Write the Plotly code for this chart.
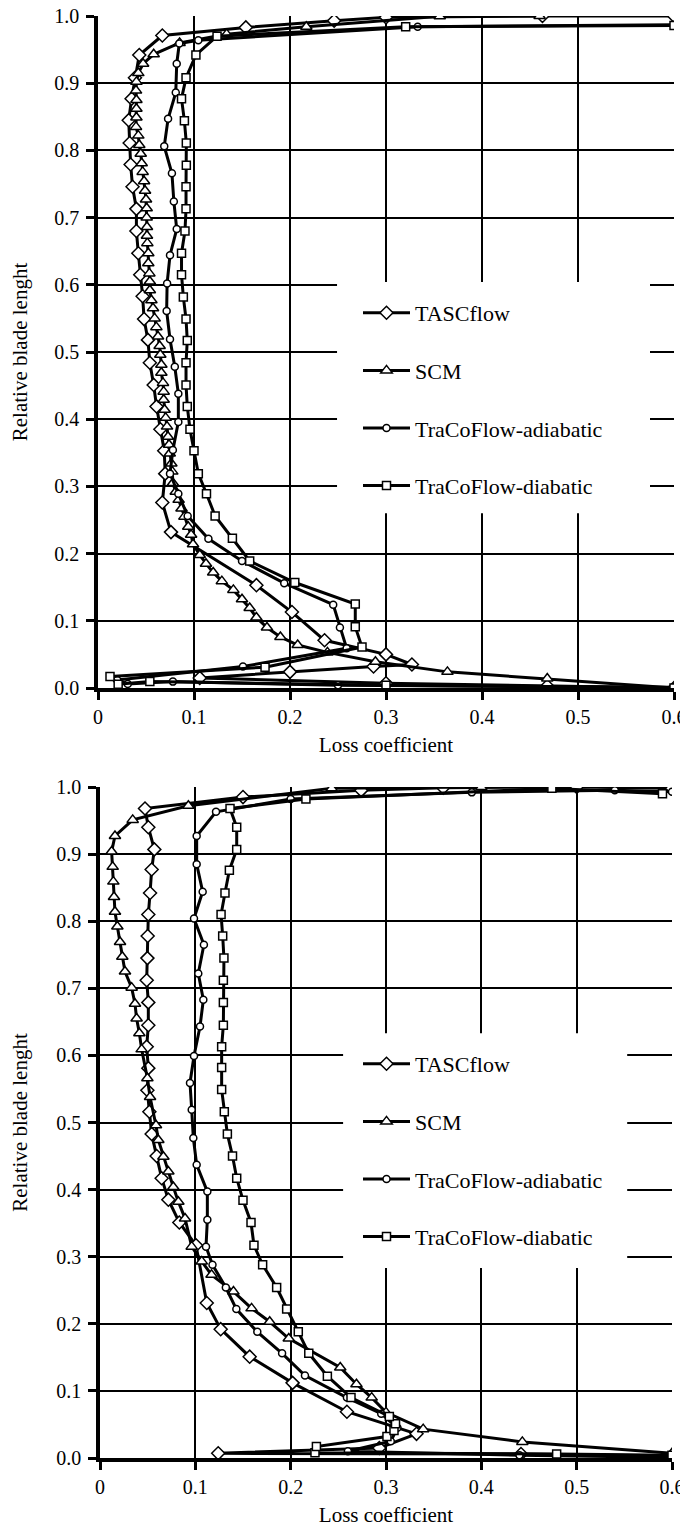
import plotly.graph_objects as go

# ---------------- data ----------------
series_names = ["TASCflow", "SCM", "TraCoFlow-adiabatic", "TraCoFlow-diabatic"]

x_tickvals = [0, 0.1, 0.2, 0.3, 0.4, 0.5, 0.6]
x_ticktext = ["0", "0.1", "0.2", "0.3", "0.4", "0.5", "0.6"]
y_tickvals = [0.0, 0.1, 0.2, 0.3, 0.4, 0.5, 0.6, 0.7, 0.8, 0.9, 1.0]

# upper chart: (loss coefficient, relative blade length)
top_tascflow = [(0.600, 0.000), (0.468, 0.003), (0.300, 0.007), (0.106, 0.015), (0.200, 0.024),
                (0.287, 0.032), (0.327, 0.035), (0.300, 0.050), (0.236, 0.071), (0.202, 0.113),
                (0.165, 0.153), (0.076, 0.232), (0.067, 0.276), (0.070, 0.319), (0.069, 0.353),
                (0.065, 0.385), (0.061, 0.419), (0.058, 0.451), (0.054, 0.484), (0.052, 0.518),
                (0.048, 0.549), (0.0465, 0.583), (0.044, 0.615), (0.042, 0.647), (0.040, 0.680),
                (0.040, 0.713), (0.036, 0.746), (0.034, 0.779), (0.033, 0.811), (0.032, 0.845),
                (0.035, 0.877), (0.0385, 0.908), (0.043, 0.942), (0.067, 0.971), (0.154, 0.983),
                (0.246, 0.993), (0.300, 0.998), (0.463, 1.000), (0.600, 1.000)]

top_scm = [(0.600, 0.000), (0.468, 0.014), (0.364, 0.024), (0.289, 0.039), (0.239, 0.053),
           (0.208, 0.064), (0.190, 0.076), (0.176, 0.090), (0.165, 0.105), (0.158, 0.119),
           (0.150, 0.132), (0.141, 0.146), (0.129, 0.159), (0.120, 0.172), (0.1125, 0.185),
           (0.106, 0.198), (0.099, 0.214), (0.097, 0.228), (0.094, 0.240), (0.090, 0.255),
           (0.087, 0.267), (0.084, 0.280), (0.081, 0.292), (0.078, 0.305), (0.0774, 0.322),
           (0.0764, 0.334), (0.0747, 0.349), (0.074, 0.362), (0.0729, 0.374), (0.0719, 0.389),
           (0.0705, 0.402), (0.0694, 0.414), (0.0684, 0.429), (0.0684, 0.441), (0.0677, 0.454),
           (0.066, 0.469), (0.066, 0.481), (0.0649, 0.496), (0.0642, 0.509), (0.0625, 0.523),
           (0.0608, 0.537), (0.059, 0.550), (0.0573, 0.565), (0.0556, 0.577), (0.054, 0.592),
           (0.054, 0.605), (0.0535, 0.617), (0.0524, 0.632), (0.0524, 0.647), (0.0514, 0.662),
           (0.051, 0.673), (0.051, 0.686), (0.0507, 0.700), (0.0507, 0.714), (0.050, 0.727),
           (0.049, 0.740), (0.048, 0.754), (0.0465, 0.768), (0.0455, 0.781), (0.0445, 0.795),
           (0.043, 0.808), (0.042, 0.822), (0.0396, 0.835), (0.040, 0.849), (0.040, 0.862),
           (0.040, 0.875), (0.0396, 0.889), (0.040, 0.902), (0.042, 0.915), (0.047, 0.929),
           (0.058, 0.943), (0.085, 0.960), (0.134, 0.973), (0.217, 0.984), (0.356, 0.9995),
           (0.460, 1.000)]

top_adiabatic = [(0.600, 0.001), (0.250, 0.004), (0.078, 0.0095), (0.031, 0.006), (0.020, 0.012),
                 (0.151, 0.032), (0.259, 0.059), (0.252, 0.090), (0.245, 0.124), (0.194, 0.156),
                 (0.150, 0.189), (0.115, 0.222), (0.0934, 0.256), (0.0837, 0.289), (0.075, 0.319),
                 (0.078, 0.354), (0.0837, 0.396), (0.0837, 0.438), (0.080, 0.478), (0.075, 0.519),
                 (0.0715, 0.561), (0.072, 0.602), (0.075, 0.644), (0.082, 0.683), (0.079, 0.724),
                 (0.077, 0.766), (0.069, 0.806), (0.073, 0.847), (0.081, 0.886), (0.082, 0.929),
                 (0.0847, 0.959), (0.1045, 0.964), (0.333, 0.984), (0.600, 0.987)]

top_diabatic = [(0.600, 0.000), (0.300, 0.004), (0.054, 0.0095), (0.021, 0.0055), (0.0125, 0.017),
                (0.174, 0.031), (0.275, 0.061), (0.268, 0.091), (0.268, 0.125), (0.205, 0.157),
                (0.158, 0.189), (0.140, 0.223), (0.122, 0.256), (0.113, 0.289), (0.1045, 0.319),
                (0.100, 0.353), (0.0958, 0.385), (0.093, 0.419), (0.0917, 0.451), (0.0917, 0.484),
                (0.093, 0.517), (0.0917, 0.549), (0.0889, 0.582), (0.087, 0.615), (0.087, 0.647),
                (0.0906, 0.680), (0.0917, 0.713), (0.0917, 0.746), (0.092, 0.778), (0.092, 0.811),
                (0.090, 0.844), (0.087, 0.877), (0.0917, 0.908), (0.102, 0.942), (0.124, 0.970),
                (0.3205, 0.984), (0.600, 0.986)]

# lower chart
bot_tascflow = [(0.600, 0.003), (0.4416, 0.006), (0.124, 0.007), (0.293, 0.015), (0.332, 0.036),
                (0.259, 0.069), (0.202, 0.112), (0.157, 0.151), (0.1266, 0.192), (0.112, 0.231),
                (0.1007, 0.317), (0.0832, 0.351), (0.0717, 0.385), (0.0647, 0.417), (0.0594, 0.450),
                (0.0542, 0.483), (0.0518, 0.516), (0.0497, 0.548), (0.0507, 0.581), (0.049, 0.613),
                (0.0507, 0.645), (0.0507, 0.679), (0.049, 0.712), (0.0497, 0.745), (0.050, 0.778),
                (0.0507, 0.810), (0.0525, 0.842), (0.0542, 0.877), (0.057, 0.907), (0.0507, 0.940),
                (0.0472, 0.968), (0.150, 0.985), (0.274, 0.995), (0.360, 0.999), (0.500, 1.000),
                (0.600, 0.998)]

bot_scm = [(0.600, 0.007), (0.443, 0.024), (0.339, 0.043), (0.300, 0.068), (0.285, 0.090),
           (0.269, 0.110), (0.252, 0.135), (0.198, 0.178), (0.178, 0.203), (0.159, 0.223),
           (0.140, 0.248), (0.117, 0.273), (0.1067, 0.293), (0.0962, 0.315), (0.0892, 0.357),
           (0.0822, 0.382), (0.0769, 0.404), (0.0717, 0.427), (0.0665, 0.449), (0.0612, 0.474),
           (0.0587, 0.496), (0.0525, 0.538), (0.0497, 0.566), (0.0437, 0.609), (0.0413, 0.633),
           (0.0384, 0.655), (0.0367, 0.677), (0.0332, 0.701), (0.0262, 0.725), (0.0234, 0.747),
           (0.021, 0.769), (0.0182, 0.792), (0.0157, 0.814), (0.0147, 0.836), (0.014, 0.859),
           (0.0133, 0.881), (0.0122, 0.904), (0.0157, 0.927), (0.0343, 0.951), (0.0927, 0.972),
           (0.243, 0.998), (0.400, 1.000)]

bot_adiabatic = [(0.600, 0.001), (0.440, 0.004), (0.260, 0.010), (0.305, 0.025), (0.312, 0.045),
                 (0.295, 0.066), (0.259, 0.090), (0.215, 0.123), (0.191, 0.156), (0.165, 0.188),
                 (0.143, 0.222), (0.132, 0.254), (0.118, 0.288), (0.1112, 0.315), (0.1126, 0.355),
                 (0.1126, 0.397), (0.1014, 0.437), (0.0979, 0.477), (0.0962, 0.519), (0.0944, 0.559),
                 (0.0986, 0.599), (0.1049, 0.643), (0.1084, 0.683), (0.1031, 0.722), (0.109, 0.765),
                 (0.0986, 0.804), (0.1077, 0.844), (0.1014, 0.885), (0.1014, 0.927), (0.1217, 0.963),
                 (0.200, 0.982), (0.390, 0.992), (0.540, 0.995), (0.600, 0.993)]

bot_diabatic = [(0.600, 0.004), (0.479, 0.006), (0.2255, 0.008), (0.227, 0.017), (0.301, 0.032),
                (0.3084, 0.041), (0.310, 0.051), (0.3035, 0.062), (0.2633, 0.090), (0.2385, 0.122),
                (0.219, 0.156), (0.208, 0.188), (0.1958, 0.222), (0.1853, 0.254), (0.1706, 0.288),
                (0.1615, 0.317), (0.1584, 0.351), (0.150, 0.384), (0.1434, 0.417), (0.139, 0.450),
                (0.1336, 0.483), (0.1304, 0.516), (0.1276, 0.549), (0.1276, 0.582), (0.1276, 0.613),
                (0.1294, 0.645), (0.1294, 0.679), (0.1294, 0.712), (0.130, 0.745), (0.1287, 0.778),
                (0.127, 0.810), (0.1311, 0.842), (0.1357, 0.876), (0.1434, 0.907), (0.1434, 0.940),
                (0.1364, 0.968), (0.216, 0.982), (0.474, 0.998), (0.590, 0.990)]

# ---------------- styling ----------------
FONT = "Liberation Serif, Times New Roman, serif"
symbols = {"TASCflow": ("diamond", 10), "SCM": ("triangle-up", 10),
           "TraCoFlow-adiabatic": ("circle", 7), "TraCoFlow-diabatic": ("square", 8)}

fig = go.Figure()


def add_series(points, name, xa, ya, legend):
    sym, size = symbols[name]
    fig.add_trace(go.Scatter(
        x=[p[0] for p in points], y=[p[1] for p in points],
        mode="lines+markers", name=name, xaxis=xa, yaxis=ya,
        legend=legend, legendgroup=legend + name,
        line=dict(color="black", width=3),
        marker=dict(symbol=sym, size=size, color="white",
                    line=dict(color="black", width=1.5)),
    ))


for pts, nm in zip([top_tascflow, top_scm, top_adiabatic, top_diabatic], series_names):
    add_series(pts, nm, "x", "y", "legend")
for pts, nm in zip([bot_tascflow, bot_scm, bot_adiabatic, bot_diabatic], series_names):
    add_series(pts, nm, "x2", "y2", "legend2")

# the page adds an 8 px body margin, so positions below are in figure pixels (page - 8)
W, H = 688, 1527
ML, MR, MT, MB = 90, 22, 8, 77
plot_w = W - ML - MR
plot_h = H - MT - MB


def px_x(px):
    return (px - ML) / plot_w


def px_y(py):
    return 1 - (py - MT) / plot_h


axis_common = dict(
    range=[0, 0.6], tickvals=x_tickvals, ticktext=x_ticktext,
    showgrid=True, gridcolor="black", gridwidth=2,
    showline=True, linecolor="black", linewidth=3.5,
    ticks="outside", ticklen=8, tickwidth=3, tickcolor="black",
    zeroline=False, tickfont=dict(family=FONT, size=20, color="black"),
    ticklabeloverflow="allow",
    title=dict(text="Loss coefficient", font=dict(family=FONT, size=21, color="black"), standoff=12),
    automargin=False,
)
yaxis_common = dict(
    range=[0, 1.0], tickvals=y_tickvals, tickformat=".1f",
    showgrid=True, gridcolor="black", gridwidth=2,
    showline=True, linecolor="black", linewidth=3.5,
    ticks="outside", ticklen=8, tickwidth=3, tickcolor="black",
    zeroline=False, tickfont=dict(family=FONT, size=20, color="black"),
    ticklabelstandoff=3, ticklabeloverflow="allow",
    title=dict(text="Relative blade lenght", font=dict(family=FONT, size=21, color="black"), standoff=26),
    automargin=False,
)

legend_common = dict(
    xanchor="left", yanchor="top",
    bgcolor="rgba(255,255,255,0)", borderwidth=0, itemwidth=47,
    tracegroupgap=26, font=dict(family=FONT, size=22, color="black"),
)

fig.update_layout(
    width=W, height=H, margin=dict(l=ML, r=MR, t=MT, b=MB, autoexpand=False),
    paper_bgcolor="white", plot_bgcolor="white",
    xaxis=dict(axis_common, domain=[0, 1], anchor="y"),
    yaxis=dict(yaxis_common, domain=[1 - 672 / plot_h, 1], anchor="x"),
    xaxis2=dict(axis_common, domain=[px_x(92), px_x(664)], anchor="y2"),
    yaxis2=dict(yaxis_common, domain=[0, 671 / plot_h], anchor="x2"),
    legend=dict(legend_common, x=px_x(350), y=px_y(284)),
    legend2=dict(legend_common, x=px_x(350), y=px_y(1035)),
    shapes=[
        dict(type="rect", xref="x", yref="y", x0=0.249, x1=0.575, y0=0.260, y1=0.604,
             fillcolor="white", line=dict(width=0), layer="above"),
        dict(type="rect", xref="x2", yref="y2", x0=0.255, x1=0.553, y0=0.283, y1=0.633,
             fillcolor="white", line=dict(width=0), layer="above"),
    ],
    showlegend=True,
)

fig.write_html("out.html")
